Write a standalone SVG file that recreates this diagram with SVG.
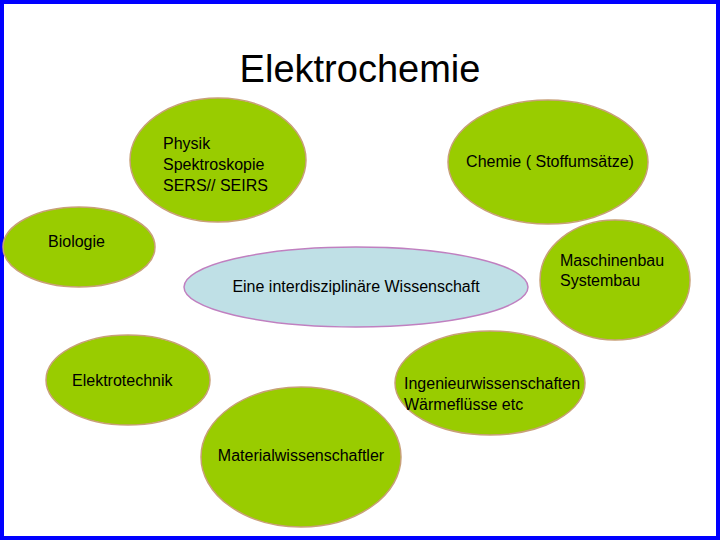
<svg xmlns="http://www.w3.org/2000/svg" width="720" height="540" viewBox="0 0 720 540">
<style>
.g{fill:#99cc00;stroke:#c8a078;stroke-width:1.5}
.t{font-family:"Liberation Sans",Arial,sans-serif;font-size:16px;fill:#000}
</style>
<rect x="0" y="0" width="720" height="540" fill="#fff"/>
<rect x="2" y="2" width="716" height="536" fill="none" stroke="#0000ff" stroke-width="4"/>
<text x="360" y="82" text-anchor="middle" font-family="Liberation Sans,Arial,sans-serif" font-size="38">Elektrochemie</text>
<g id="physik"><ellipse class="g" cx="218" cy="160" rx="88" ry="62"/>
<text class="t" x="163" y="149">Physik</text><text class="t" x="163" y="170">Spektroskopie</text><text class="t" x="163" y="191">SERS// SEIRS</text></g>
<g id="chemie"><ellipse class="g" cx="548" cy="162" rx="100" ry="62"/>
<text class="t" x="550" y="167" text-anchor="middle">Chemie ( Stoffumsätze)</text></g>
<g id="biologie"><ellipse class="g" cx="79" cy="247" rx="76" ry="40"/>
<text class="t" x="48" y="247">Biologie</text></g>
<g id="zentral"><ellipse cx="356" cy="287" rx="172" ry="40" fill="#bfe0e6" stroke="#c080c0" stroke-width="1.5"/>
<text class="t" x="356" y="292" text-anchor="middle">Eine interdisziplinäre Wissenschaft</text></g>
<g id="maschinenbau"><ellipse class="g" cx="615" cy="280" rx="75" ry="60"/>
<text class="t" x="560" y="266">Maschinenbau</text><text class="t" x="560" y="286">Systembau</text></g>
<g id="elektrotechnik"><ellipse class="g" cx="128" cy="380" rx="82" ry="45"/>
<text class="t" x="72" y="386">Elektrotechnik</text></g>
<g id="ingenieur"><ellipse class="g" cx="490" cy="383" rx="95" ry="52"/>
<text class="t" x="404" y="389">Ingenieurwissenschaften</text><text class="t" x="404" y="410">Wärmeflüsse etc</text></g>
<g id="material"><ellipse class="g" cx="301" cy="457" rx="100" ry="70"/>
<text class="t" x="301" y="461" text-anchor="middle">Materialwissenschaftler</text></g>
<g id="connectors"/>
</svg>
